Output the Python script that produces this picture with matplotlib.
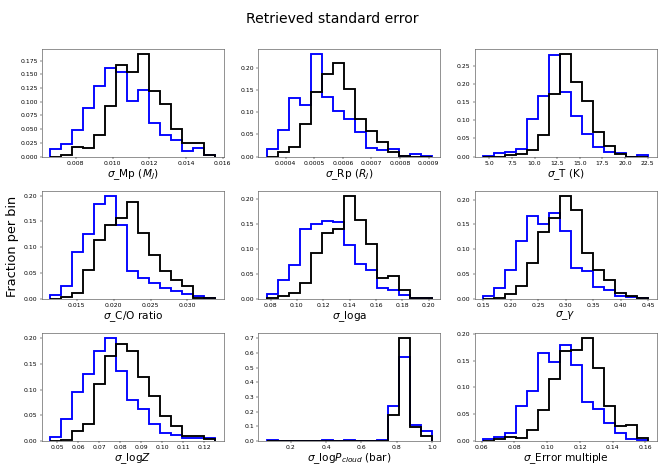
import numpy as np
import matplotlib
matplotlib.use("Agg")
import matplotlib.pyplot as plt
from matplotlib.ticker import MultipleLocator

# fraction per bin, 15 bins between lo/hi; blue and black runs
mp_range = (0.0066, 0.0156)
mp_blue = [0.013, 0.023, 0.048, 0.088, 0.128, 0.162, 0.155, 0.102, 0.122, 0.062, 0.040, 0.030, 0.010, 0.015, 0.002]
mp_black = [0.0, 0.003, 0.017, 0.015, 0.040, 0.092, 0.167, 0.155, 0.187, 0.120, 0.095, 0.050, 0.025, 0.025, 0.003]

rp_range = (0.000333, 0.000912)
rp_blue = [0.017, 0.060, 0.132, 0.117, 0.232, 0.134, 0.104, 0.085, 0.056, 0.020, 0.015, 0.018, 0.002, 0.005, 0.002]
rp_black = [0.0, 0.010, 0.022, 0.074, 0.147, 0.187, 0.212, 0.152, 0.085, 0.057, 0.034, 0.010, 0.002, 0.0, 0.0]

t_range = (4.3, 22.6)
t_blue = [0.002, 0.011, 0.014, 0.021, 0.103, 0.168, 0.281, 0.177, 0.112, 0.062, 0.026, 0.012, 0.010, 0.0, 0.003]
t_black = [0.0, 0.0, 0.003, 0.008, 0.017, 0.060, 0.173, 0.283, 0.205, 0.153, 0.068, 0.028, 0.007, 0.0, 0.0]

co_range = (0.0114, 0.0338)
co_blue = [0.007, 0.025, 0.090, 0.125, 0.183, 0.199, 0.143, 0.053, 0.040, 0.030, 0.020, 0.015, 0.010, 0.006, 0.002]
co_black = [0.0, 0.004, 0.012, 0.055, 0.113, 0.143, 0.157, 0.187, 0.128, 0.085, 0.053, 0.037, 0.025, 0.002, 0.002]

loga_range = (0.077, 0.2025)
loga_blue = [0.009, 0.037, 0.067, 0.140, 0.150, 0.155, 0.153, 0.107, 0.069, 0.057, 0.021, 0.017, 0.008, 0.002, 0.001]
loga_black = [0.002, 0.005, 0.012, 0.032, 0.092, 0.132, 0.140, 0.205, 0.157, 0.110, 0.042, 0.045, 0.017, 0.002, 0.001]

gam_range = (0.15, 0.45)
gam_blue = [0.005, 0.022, 0.057, 0.117, 0.167, 0.150, 0.172, 0.137, 0.062, 0.055, 0.024, 0.017, 0.005, 0.003, 0.002]
gam_black = [0.0, 0.002, 0.010, 0.025, 0.072, 0.135, 0.162, 0.207, 0.180, 0.092, 0.057, 0.037, 0.012, 0.005, 0.002]

logz_range = (0.0465, 0.1255)
logz_blue = [0.008, 0.042, 0.095, 0.130, 0.175, 0.200, 0.137, 0.080, 0.062, 0.033, 0.015, 0.012, 0.005, 0.005, 0.005]
logz_black = [0.0, 0.002, 0.020, 0.033, 0.110, 0.165, 0.188, 0.175, 0.125, 0.087, 0.048, 0.028, 0.010, 0.010, 0.003]

pc_range = (0.062, 1.0)
pc_blue = [0.003, 0.0, 0.0, 0.0, 0.0, 0.003, 0.0, 0.008, 0.0, 0.0, 0.005, 0.240, 0.575, 0.110, 0.065]
pc_black = [0.0, 0.0, 0.0, 0.0, 0.0, 0.0, 0.0, 0.0, 0.0, 0.0, 0.0, 0.175, 0.700, 0.095, 0.035]

err_range = (0.0608, 0.1618)
err_blue = [0.003, 0.008, 0.014, 0.065, 0.093, 0.165, 0.147, 0.180, 0.142, 0.072, 0.060, 0.033, 0.015, 0.003, 0.001]
err_black = [0.0, 0.003, 0.008, 0.005, 0.020, 0.057, 0.115, 0.168, 0.170, 0.192, 0.137, 0.065, 0.028, 0.030, 0.005]

panels = [
    ("$\\sigma$_Mp ($M_J$)", mp_range, mp_blue, mp_black, 0.002, 0.025),
    ("$\\sigma$_Rp ($R_J$)", rp_range, rp_blue, rp_black, 0.0001, 0.05),
    ("$\\sigma$_T (K)", t_range, t_blue, t_black, 2.5, 0.05),
    ("$\\sigma$_C/O ratio", co_range, co_blue, co_black, 0.005, 0.05),
    ("$\\sigma$_loga", loga_range, loga_blue, loga_black, 0.02, 0.05),
    ("$\\sigma$_$\\gamma$", gam_range, gam_blue, gam_black, 0.05, 0.05),
    ("$\\sigma$_log$Z$", logz_range, logz_blue, logz_black, 0.01, 0.05),
    ("$\\sigma$_log$P_{cloud}$ (bar)", pc_range, pc_blue, pc_black, 0.2, 0.1),
    ("$\\sigma$_Error multiple", err_range, err_blue, err_black, 0.02, 0.05),
]

s = 0.42
plt.rcParams['axes.linewidth'] = 0.9*s
plt.rcParams['axes.edgecolor'] = '#333333'
plt.rcParams['xtick.major.width'] = 0.8*s
plt.rcParams['ytick.major.width'] = 0.8*s
plt.rcParams['xtick.major.size'] = 3.5*s
plt.rcParams['ytick.major.size'] = 3.5*s
plt.rcParams['xtick.major.pad'] = 3.5*s
plt.rcParams['ytick.major.pad'] = 3.5*s

fig, axes = plt.subplots(3, 3, figsize=(6.64, 4.75), dpi=100)
plt.subplots_adjust(left=0.063, right=0.989, top=0.897, bottom=0.072, wspace=0.19, hspace=0.32)

for ax, (label, rng, blue, black, xs, ys) in zip(axes.flat, panels):
    edges = np.linspace(rng[0], rng[1], len(blue)+1)
    ax.hist(edges[:-1], bins=edges, weights=blue, histtype='step', color='blue', linewidth=1.35)
    ax.hist(edges[:-1], bins=edges, weights=black, histtype='step', color='black', linewidth=1.35)
    ax.xaxis.set_major_locator(MultipleLocator(xs))
    ax.yaxis.set_major_locator(MultipleLocator(ys))
    ax.tick_params(labelsize=10.5*s)
    ax.set_xlabel(label, fontsize=18*s, labelpad=1)

fig.text(0.019, 0.482, "Fraction per bin", rotation=90, ha='center', va='center', fontsize=22*s)
fig.suptitle("Retrieved standard error", fontsize=24*s, y=0.975)
plt.savefig("out.png", dpi=100)
